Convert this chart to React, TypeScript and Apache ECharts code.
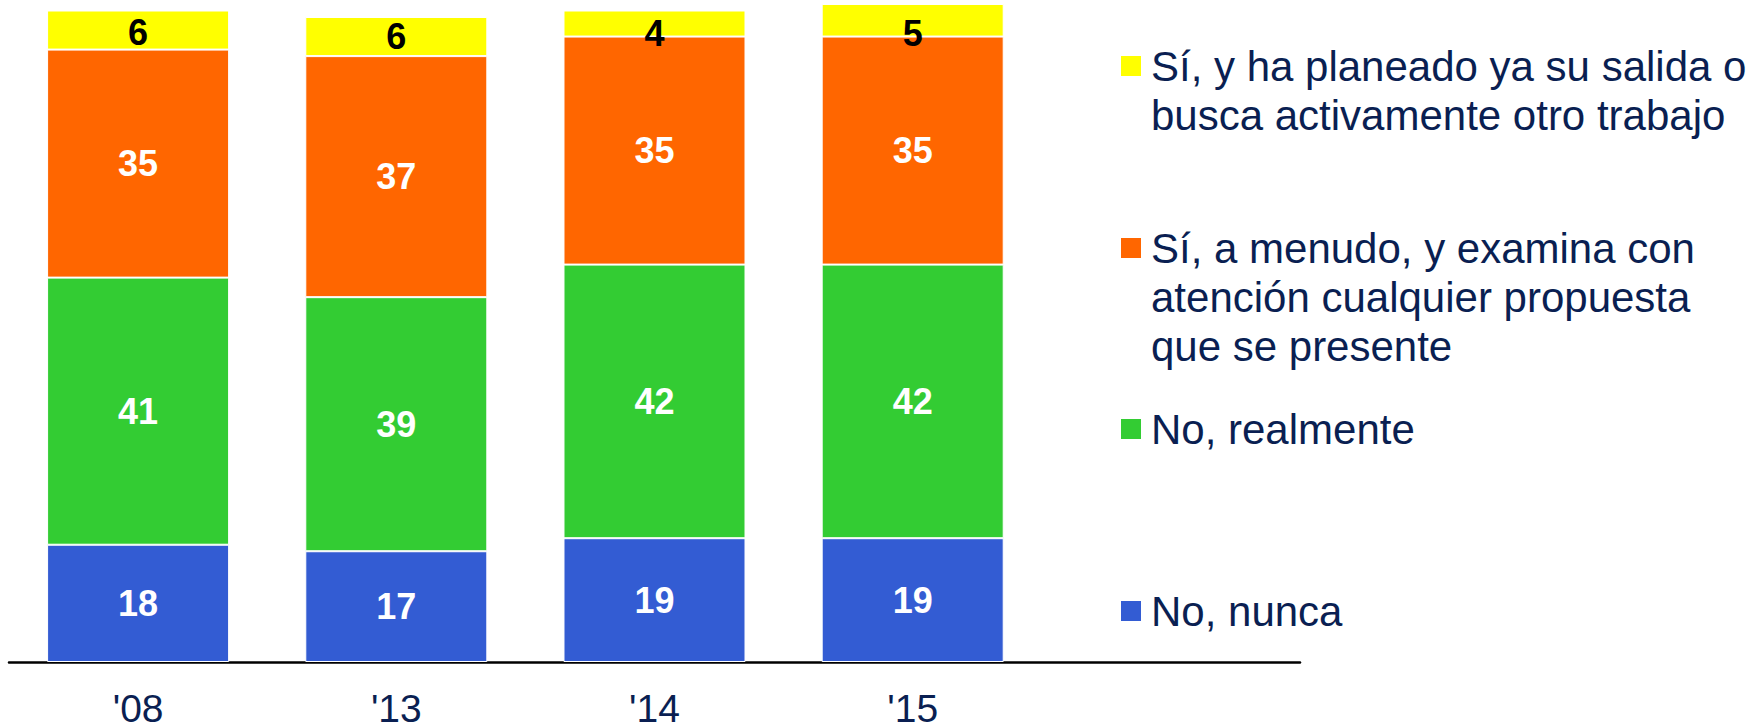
import React, { useEffect, useRef } from "react";
import * as echarts from "echarts";

const categories = ["'08", "'13", "'14", "'15"];
const seriesNames = [
  "No, nunca",
  "No, realmente",
  "Sí, a menudo, y examina con\natención cualquier propuesta\nque se presente",
  "Sí, y ha planeado ya su salida o\nbusca activamente otro trabajo",
];
const noNunca = [18, 17, 19, 19];
const noRealmente = [41, 39, 42, 42];
const siAMenudo = [35, 37, 35, 35];
const siPlaneado = [6, 6, 4, 5];

const colors = ["#335CD3", "#33CC33", "#FF6600", "#FFFF00"];
const labelColors = ["#ffffff", "#ffffff", "#ffffff", "#000000"];
const yellowLabelOffsets = [2, 0, 10, 13];
const legendIconCenters = [611, 429, 248, 66];

const NAVY = "#0a1f52";
const FONT = "'Liberation Sans', Arial, Helvetica, sans-serif";
const LEGEND_LH = 49;

export default function App() {
  const ref = useRef<HTMLDivElement>(null);
  useEffect(() => {
    if (!ref.current) return;
    const chart = echarts.init(ref.current, null, { renderer: "svg" });
    const values = [noNunca, noRealmente, siAMenudo, siPlaneado];

    const series = values.map((vals, i) => ({
      name: seriesNames[i],
      type: "bar",
      stack: "total",
      barWidth: "70.5%",
      clip: false,
      itemStyle: { color: colors[i], borderColor: "#ffffff", borderWidth: 1 },
      label: {
        show: true,
        position: "inside",
        color: labelColors[i],
        fontSize: 36,
        fontWeight: "bold",
        fontFamily: FONT,
      },
      data: vals.map((v, j) =>
        i === 3
          ? { value: v, label: { offset: [0, yellowLabelOffsets[j]] } }
          : v
      ),
    }));

    const legends = seriesNames.map((name, i) => {
      const k = name.split("\n").length;
      const top = legendIconCenters[i] - ((2 * k - 1) * LEGEND_LH) / 2;
      return {
        data: [name],
        left: 1119,
        top,
        padding: 0,
        orient: "vertical",
        icon: "rect",
        itemWidth: 22,
        itemHeight: 22,
        selectedMode: false,
        formatter: (n: string) => "\n".repeat(k - 1) + n,
        textStyle: {
          color: NAVY,
          fontSize: 42,
          lineHeight: LEGEND_LH,
          fontFamily: FONT,
          padding: [0, 0, 0, 4],
        },
      };
    });

    chart.setOption({
      animation: false,
      color: colors,
      legend: legends,
      grid: { left: 9, right: 460, top: 10.5, bottom: 66, containLabel: false },
      xAxis: {
        type: "category",
        data: categories,
        max: 4,
        axisLine: { show: true, lineStyle: { color: "#000000", width: 2.5 } },
        axisTick: { show: false },
        axisLabel: {
          color: NAVY,
          fontSize: 39,
          lineHeight: 28,
          verticalAlign: "middle",
          fontFamily: FONT,
          margin: 46,
        },
      },
      yAxis: {
        type: "value",
        min: 0,
        max: 100,
        show: false,
        splitLine: { show: false },
      },
      series,
    });
    return () => chart.dispose();
  }, []);
  return (
    <div
      ref={ref}
      style={{
        position: "fixed",
        left: 0,
        top: 0,
        width: 1760,
        height: 728,
        background: "#ffffff",
      }}
    />
  );
}
